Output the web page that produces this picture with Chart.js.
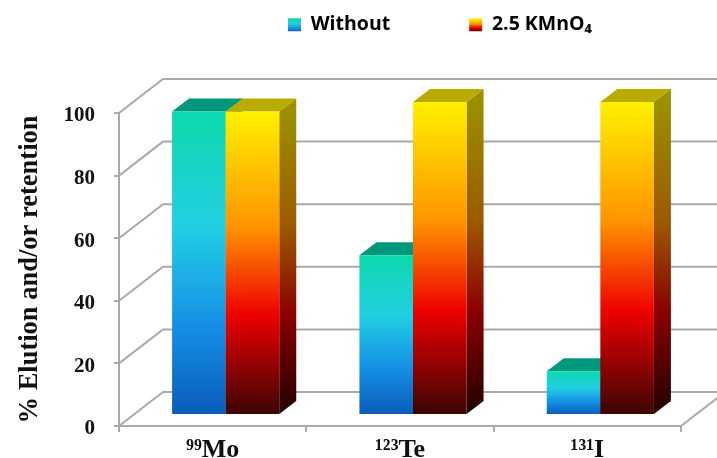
<!DOCTYPE html>
<html><head><meta charset="utf-8">
<style>html,body{margin:0;padding:0;background:#fff}#w{position:relative;width:717px;height:458px}</style>
<script src="https://cdn.jsdelivr.net/npm/chart.js@4"></script></head>
<body><div id="w"><canvas id="c" width="717" height="458"></canvas></div>
<script>
const categories = ['⁹⁹Mo', '¹²³Te', '¹³¹I'];
const withoutValues = [97, 51, 14];
const kmno4Values = [97, 100, 100];
const seriesNames = ['Without', '2.5 KMnO₄'];
const yTicksMax = 100, yTickStep = 20;

const GRID = '#a9a9a9';
const WALL = {dx: 44, dy: -34, right: 760};
const BAR = {dx: 13, dy: -11, sx: 17, sy: -13};

const stopsA = [[0,'#0a5cb8'],[0.3,'#1590e6'],[0.62,'#22cfe2'],[1,'#0cd9ac']];
const stopsB = [[0,'#3a0404'],[0.33,'#ee0000'],[0.62,'#ff9400'],[1,'#fff000']];
const sideA = [[0,'#06386e'],[1,'#067a68']];
const sideB = [[0,'#220000'],[0.33,'#8a0000'],[0.62,'#9c5a00'],[1,'#9a9000']];
const topA = '#00987c', topB = '#b9ab00';

function grad(ctx, y0, y1, stops){
  const g = ctx.createLinearGradient(0, y0, 0, y1);
  stops.forEach(s => g.addColorStop(s[0], s[1]));
  return g;
}
function barFill(stops){
  return c => {
    const ch = c.chart, y = ch.scales && ch.scales.y;
    if (!y || c.raw === undefined) return stops[1][1];
    return grad(ch.ctx, y.getPixelForValue(0), y.getPixelForValue(c.raw), stops);
  };
}
function legendFill(ctx, stops){ return grad(ctx, 32, 19, stops); }

function drawExtrusion(ctx, meta, side, top){
  meta.data.forEach(b => {
    const r = b.x + b.width/2, l = b.x - b.width/2;
    ctx.fillStyle = grad(ctx, b.base, b.y, side);
    ctx.beginPath();
    ctx.moveTo(r, b.base); ctx.lineTo(r + BAR.sx, b.base + BAR.sy);
    ctx.lineTo(r + BAR.sx, b.y + BAR.sy); ctx.lineTo(r, b.y); ctx.closePath(); ctx.fill();
    ctx.fillStyle = top;
    ctx.beginPath();
    ctx.moveTo(l, b.y); ctx.lineTo(l + BAR.sx, b.y + BAR.sy);
    ctx.lineTo(r + BAR.sx, b.y + BAR.sy); ctx.lineTo(r, b.y); ctx.closePath(); ctx.fill();
  });
}

const threeD = {
  id: 'threeD',
  afterLayout(chart){
    const l = chart.legend, pad = l.options.labels.padding;
    l.left = 288 - pad; l.right = 2000; l.top = 15 - pad;
  },
  beforeDatasetsDraw(chart){
    const {ctx, scales:{x, y}} = chart;
    ctx.save();
    ctx.strokeStyle = GRID; ctx.lineWidth = 2;
    const L = x.left;
    y.ticks.forEach(t => {
      const py = y.getPixelForValue(t.value);
      ctx.beginPath();
      ctx.moveTo(L, py);
      ctx.lineTo(L + WALL.dx, py + WALL.dy);
      ctx.lineTo(WALL.right, py + WALL.dy);
      ctx.stroke();
    });
    const py0 = y.getPixelForValue(0);
    ctx.beginPath();
    ctx.moveTo(x.right, py0);
    ctx.lineTo(x.right + WALL.dx, py0 + WALL.dy);
    ctx.stroke();
    ctx.restore();
  },
  beforeDatasetDraw(chart, args){
    if (args.index === 1) return false; // the right-hand series is painted last, below
    const ctx = chart.ctx;
    ctx.save();
    ctx.translate(BAR.dx, BAR.dy);
    drawExtrusion(ctx, args.meta, sideA, topA);
  },
  afterDatasetDraw(chart){ chart.ctx.restore(); },
  afterDatasetsDraw(chart){
    const ctx = chart.ctx, meta = chart.getDatasetMeta(1);
    ctx.save();
    ctx.translate(BAR.dx, BAR.dy);
    drawExtrusion(ctx, meta, sideB, topB);
    meta.controller.draw();
    ctx.restore();
  }
};

const ctx0 = document.getElementById('c').getContext('2d');
new Chart(ctx0, {
  type: 'bar',
  plugins: [threeD],
  data: {
    labels: categories,
    datasets: [
      {label: seriesNames[0], data: withoutValues, clip: false, backgroundColor: barFill(stopsA), borderWidth: 0},
      {label: seriesNames[1], data: kmno4Values, clip: false, backgroundColor: barFill(stopsB), borderWidth: 0}
    ]
  },
  options: {
    responsive: false,
    animation: false,
    layout: {padding: {top: 73, right: 36, left: 0, bottom: 0}},
    datasets: {bar: {categoryPercentage: 0.572, barPercentage: 1}},
    plugins: {
      tooltip: {enabled: false},
      legend: {
        position: 'top', align: 'start', maxHeight: 40,
        labels: {
          boxWidth: 13, boxHeight: 13, padding: 79, color: '#1c1c1c',
          font: {family: '"Open Sans"', size: 19.5, weight: 'bold'},
          generateLabels(){
            return seriesNames.map((n, i) => ({
              text: n, datasetIndex: i, lineWidth: 0, strokeStyle: 'transparent',
              fillStyle: legendFill(ctx0, i === 0 ? stopsA : stopsB)
            }));
          }
        }
      }
    },
    scales: {
      x: {
        grid: {display: true, drawOnChartArea: false, drawTicks: true, tickLength: 6, color: GRID, lineWidth: 2},
        border: {color: GRID, width: 2},
        ticks: {color: '#111', padding: 3, maxRotation: 0, font: {family: '"Liberation Serif"', size: 26, weight: 'bold'}},
        afterFit(s){ s.height = 32; }
      },
      y: {
        min: 0, max: yTicksMax,
        grid: {display: true, drawOnChartArea: false, drawTicks: true, tickLength: 5, color: GRID, lineWidth: 2},
        border: {color: GRID, width: 2},
        ticks: {stepSize: yTickStep, color: '#111', padding: 19, labelOffset: 3, font: {family: '"Liberation Serif"', size: 21, weight: 'bold'}},
        title: {display: true, text: '% Elution and/or retention', color: '#111', padding: {top: 14, bottom: 0},
          font: {family: '"Liberation Serif"', size: 26.5, weight: 'bold'}},
        afterFit(s){ s.width = 119; }
      }
    }
  }
});
</script></body></html>
